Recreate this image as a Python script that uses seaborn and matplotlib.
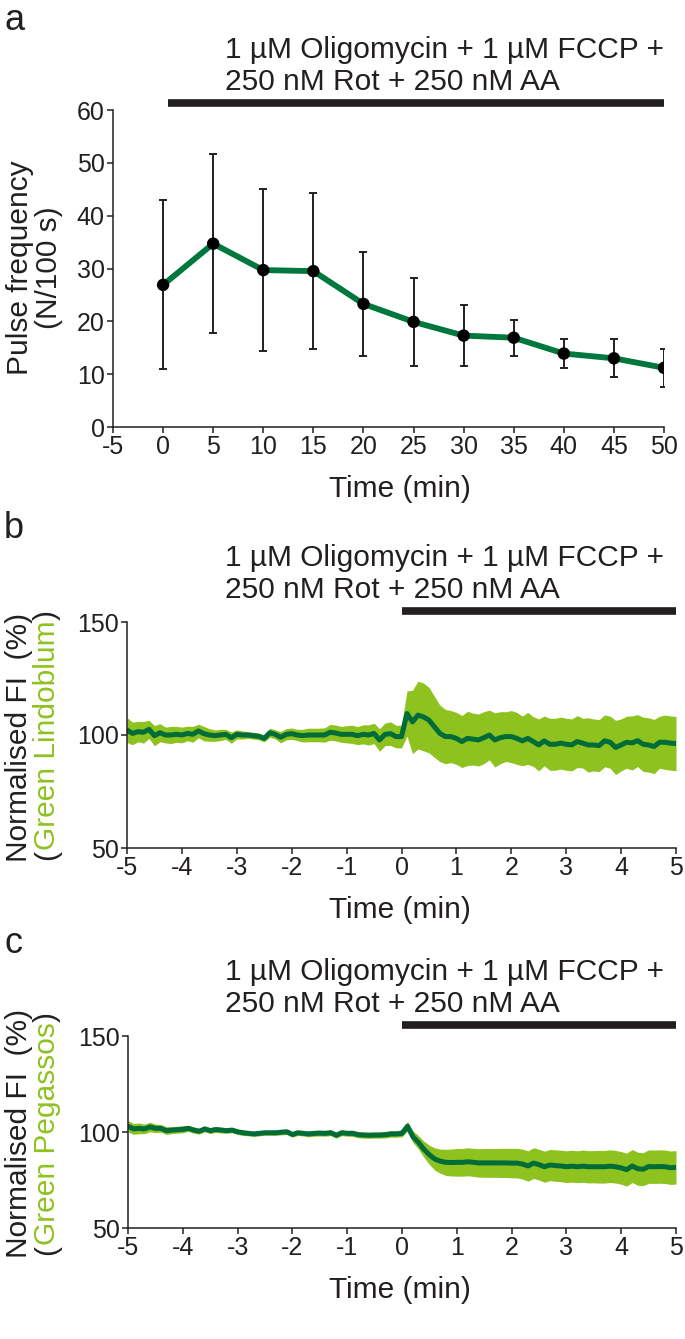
import numpy as np
import matplotlib
matplotlib.use("Agg")
import matplotlib.pyplot as plt
import seaborn as sns

# panel a: pulse frequency (mean +/- SD)
time_a = [0, 5, 10, 15, 20, 25, 30, 35, 40, 45, 50]
pulse_mean = [26.9, 34.7, 29.7, 29.5, 23.3, 19.9, 17.3, 16.9, 13.9, 13.0, 11.2]
pulse_sd = [16.0, 17.0, 15.4, 14.8, 9.8, 8.3, 5.8, 3.4, 2.8, 3.6, 3.6]

# panels b, c: time in min, one point every 0.1 min
time_bc = np.round(np.arange(-50, 51) / 10, 1)

lindoblum_mean = [
    102.2, 100.7, 101.5, 101.2, 102.5, 99.7, 101.0, 100.0, 100.0, 100.3,
    100.0, 100.7, 100.3, 101.8, 100.6, 100.0, 99.7, 100.0, 100.3, 98.8,
    100.3, 100.0, 100.0, 99.7, 99.4, 98.5, 101.0, 100.3, 99.0, 100.3,
    100.6, 100.0, 99.7, 100.0, 100.0, 100.0, 100.0, 101.2, 100.9, 100.3,
    100.3, 100.3, 99.7, 100.3, 100.0, 100.7, 97.8, 100.3, 100.6, 99.3,
    99.3, 109.5, 105.8, 108.8, 108.0, 106.6, 103.6, 100.7, 99.3, 99.3,
    98.5, 97.1, 98.5, 98.2, 97.8, 98.8, 100.0, 97.8, 98.8, 99.3,
    99.3, 98.5, 97.4, 98.5, 97.1, 95.6, 97.4, 95.9, 95.9, 96.4,
    95.9, 95.6, 97.1, 96.4, 95.6, 95.6, 95.3, 97.4, 96.8, 94.5,
    95.6, 96.8, 96.5, 97.5, 95.9, 95.6, 94.9, 96.8, 96.8, 96.4,
    96.2,
]
lindoblum_sd = [
    5.5, 5.0, 4.5, 4.8, 4.0, 4.5, 4.0, 3.5, 3.8, 3.5,
    3.5, 3.2, 3.5, 3.0, 3.2, 2.8, 2.5, 2.5, 2.2, 2.5,
    2.0, 1.8, 1.5, 1.5, 1.5, 1.5, 2.0, 2.0, 2.5, 2.5,
    2.5, 2.5, 2.8, 3.0, 3.0, 3.0, 3.2, 3.5, 3.5, 3.5,
    3.8, 4.0, 4.0, 4.2, 4.5, 4.5, 5.0, 5.0, 5.2, 5.0,
    5.0, 10.0, 14.0, 15.0, 15.0, 14.5, 13.5, 12.5, 12.0, 11.5,
    11.5, 11.5, 12.0, 11.5, 11.5, 11.5, 11.0, 12.0, 11.5, 11.0,
    11.5, 11.5, 11.0, 11.5, 11.0, 11.5, 11.0, 11.5, 11.5, 11.5,
    11.5, 11.5, 11.5, 11.0, 12.0, 11.5, 11.5, 11.5, 11.5, 12.0,
    11.5, 11.5, 12.0, 11.5, 12.0, 12.0, 12.0, 11.5, 12.0, 12.0,
    12.0,
]

pegassos_mean = [
    103.0, 101.6, 101.9, 101.6, 102.6, 101.9, 101.9, 100.7, 101.0, 101.2,
    101.4, 101.9, 101.0, 100.4, 101.6, 100.7, 101.3, 101.0, 100.7, 101.0,
    100.1, 99.6, 99.3, 99.0, 99.3, 99.6, 99.6, 99.6, 99.9, 100.1,
    98.7, 99.6, 99.3, 99.0, 99.3, 99.4, 99.3, 99.6, 98.3, 99.6,
    99.3, 99.3, 98.6, 98.4, 98.3, 98.4, 98.4, 98.6, 99.0, 99.0,
    99.3, 103.0, 97.5, 94.6, 91.0, 88.1, 85.9, 84.8, 84.2, 84.1,
    84.2, 84.2, 84.5, 84.2, 83.9, 83.9, 83.9, 83.9, 83.9, 83.9,
    83.8, 83.8, 83.3, 82.3, 83.8, 83.0, 81.9, 82.8, 82.5, 82.3,
    81.9, 82.2, 81.9, 82.2, 81.9, 81.9, 81.9, 81.9, 82.2, 81.9,
    81.3, 80.4, 82.3, 80.9, 80.6, 82.0, 81.9, 82.0, 81.9, 81.4,
    81.6,
]
pegassos_sd = [
    3.0, 2.8, 2.8, 2.5, 2.5, 2.2, 2.0, 2.0, 1.8, 1.8,
    1.8, 1.6, 1.6, 1.5, 1.5, 1.5, 1.5, 1.5, 1.4, 1.4,
    1.4, 1.4, 1.3, 1.3, 1.3, 1.3, 1.3, 1.3, 1.4, 1.4,
    1.4, 1.4, 1.4, 1.5, 1.5, 1.5, 1.5, 1.5, 1.5, 1.5,
    1.5, 1.6, 1.6, 1.6, 1.6, 1.6, 1.6, 1.7, 1.7, 1.7,
    1.8, 2.5, 3.0, 3.5, 4.2, 5.0, 5.8, 6.3, 6.8, 7.0,
    7.2, 7.2, 7.3, 7.3, 7.4, 7.5, 7.5, 7.5, 7.6, 7.6,
    7.7, 7.7, 7.8, 7.9, 8.0, 8.0, 8.1, 8.1, 8.2, 8.2,
    8.3, 8.3, 8.3, 8.4, 8.4, 8.4, 8.5, 8.5, 8.5, 8.5,
    8.5, 8.6, 8.6, 8.6, 8.6, 8.7, 8.7, 8.7, 8.7, 8.7,
    8.7,
]

treatment_lines = ["1 µM Oligomycin + 1 µM FCCP +", "250 nM Rot + 250 nM AA"]

sns.set_theme(style="ticks")
plt.rcParams["font.family"] = ["Liberation Sans", "DejaVu Sans"]
plt.rcParams["axes.unicode_minus"] = False

INK = "#231f20"
LINE_A = "#00773c"
LINE_BC = "#006d38"
BAND = "#8dc21f"
W, H = 685, 1339
FS = 21.5    # titles / axis labels
TFS = 18     # tick labels


def box(left, top, right, bottom):
    return [left / W, 1 - bottom / H, (right - left) / W, (bottom - top) / H]


def fx(x):
    return x / W


def fy(y):
    return 1 - y / H


def style_axes(ax):
    sns.despine(ax=ax)
    for s in ("left", "bottom"):
        ax.spines[s].set_linewidth(1.1)
        ax.spines[s].set_color(INK)
    ax.tick_params(direction="out", length=4, width=1.1, colors=INK,
                   labelsize=TFS, pad=2)
    ax.grid(False)


fig = plt.figure(figsize=(W / 100, H / 100), dpi=100)

# ---------- a ----------
ax_a = fig.add_axes(box(113, 110, 664, 427))
ax_a.errorbar(time_a, pulse_mean, yerr=pulse_sd, fmt="none", ecolor=INK,
              elinewidth=1.4, capsize=2.8, capthick=1.4, zorder=2)
sns.lineplot(x=time_a, y=pulse_mean, ax=ax_a, color=LINE_A, lw=4.2, zorder=3)
sns.scatterplot(x=time_a, y=pulse_mean, ax=ax_a, color="black", s=80,
                edgecolor="none", zorder=4)
ax_a.set_xlim(-5, 50)
ax_a.set_ylim(0, 60)
ax_a.set_xticks(range(-5, 51, 5))
ax_a.set_yticks(range(0, 61, 10))
ax_a.set_xlabel("")
ax_a.set_ylabel("")
style_axes(ax_a)
ax_a.plot([0.5, 50], [1.022, 1.022], transform=ax_a.get_xaxis_transform(),
          color=INK, lw=5.5, clip_on=False, solid_capstyle="butt")

# ---------- b, c ----------
panels = [
    (box(127, 622, 676, 848), lindoblum_mean, lindoblum_sd, 1.049),
    (box(128, 1036, 676, 1228), pegassos_mean, pegassos_sd, 1.057),
]
for rect, mean, sd, bar_y in panels:
    ax = fig.add_axes(rect)
    mean = np.array(mean)
    sd = np.array(sd)
    ax.fill_between(time_bc, mean - sd, mean + sd, color=BAND, lw=0, zorder=1)
    sns.lineplot(x=time_bc, y=mean, ax=ax, color=LINE_BC, lw=3.6, zorder=2)
    ax.set_xlim(-5, 5)
    ax.set_ylim(50, 150)
    ax.set_xticks(range(-5, 6))
    ax.set_yticks([50, 100, 150])
    ax.set_xlabel("")
    ax.set_ylabel("")
    style_axes(ax)
    ax.plot([0, 5], [bar_y, bar_y], transform=ax.get_xaxis_transform(),
            color=INK, lw=5.5, clip_on=False, solid_capstyle="butt")

# ---------- texts ----------
for lab, y in (("a", 30), ("b", 538), ("c", 953)):
    fig.text(fx(4), fy(y), lab, fontsize=26, color=INK, va="baseline")

for y in (58, 566, 980):
    fig.text(fx(225), fy(y), treatment_lines[0], fontsize=FS, color=INK,
             va="baseline")
    fig.text(fx(225), fy(y + 32), treatment_lines[1], fontsize=FS,
             color=INK, va="baseline")

for y in (497, 918, 1298):
    fig.text(fx(400), fy(y), "Time (min)", fontsize=FS, color=INK,
             ha="center", va="baseline")

fig.text(fx(20), fy(268), "Pulse frequency", rotation=90, fontsize=FS,
         color=INK, ha="center", va="center")
fig.text(fx(49), fy(268), "(N/100 s)", rotation=90, fontsize=FS,
         color=INK, ha="center", va="center")


def two_colour_label(x, y_bottom, name):
    # "(" and ")" in black, the sensor name in green
    t1 = fig.text(fx(x), fy(y_bottom), "(", rotation=90, fontsize=FS,
                  color=INK, ha="left", va="bottom")
    t2 = plt.annotate(name, xy=(0, 1), xycoords=t1, rotation=90,
                      fontsize=FS, color=BAND, ha="left", va="bottom",
                      annotation_clip=False)
    plt.annotate(")", xy=(0, 1), xycoords=t2, rotation=90, fontsize=FS,
                 color=INK, ha="left", va="bottom", annotation_clip=False)


for y_mid, y_bottom, name in ((737, 860, "Green Lindoblum"),
                              (1133, 1255, "Green Pegassos")):
    fig.text(fx(19), fy(y_mid), "Normalised FI  (%)", rotation=90,
             fontsize=FS, color=INK, ha="center", va="center")
    two_colour_label(33, y_bottom, name)

fig.savefig("out.png", dpi=100)
